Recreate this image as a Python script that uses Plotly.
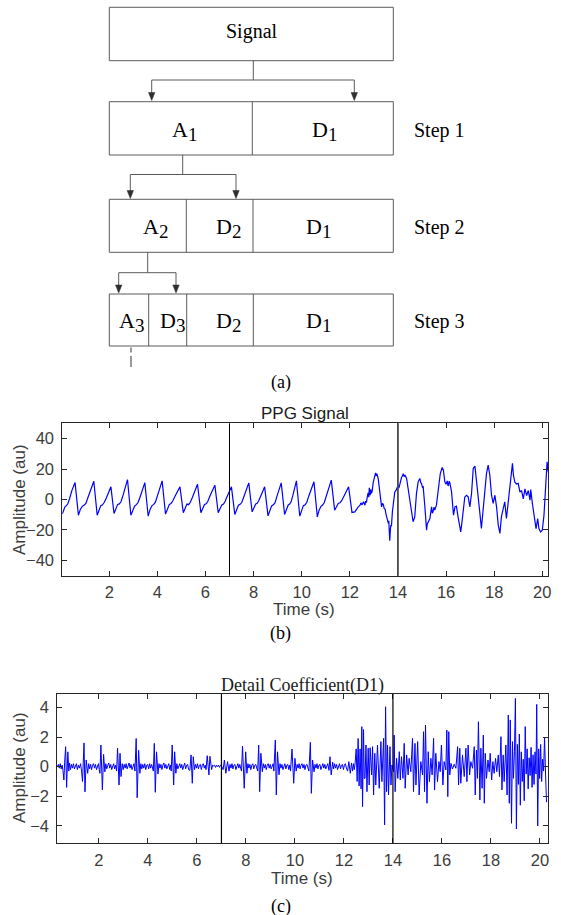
import plotly.graph_objects as go

W, H = 561, 915

# ---------------------------------------------------------------- data
# PPG recording, (time s, amplitude au): regular beats up to ~12 s
ppg_calm = [
    (0.05, -9.5), (0.10, -7.0), (0.16, -4.8), (0.22, -4.0), (0.28, -2.8), (0.35, 0.5), (0.45, 6.0), (0.58, 11.1),
    (0.72, -10.3), (0.80, -6.5), (0.88, -4.5), (0.96, -3.6), (1.03, -2.6), (1.12, 1.5), (1.22, 6.5), (1.36, 12.0),
    (1.50, -10.3), (1.57, -6.8), (1.65, -4.0), (1.72, -3.5), (1.79, -2.0), (1.88, 1.0), (1.96, 4.5), (2.07, 8.3),
    (2.20, -9.2), (2.27, -6.0), (2.35, -3.2), (2.42, -2.9), (2.49, -1.5), (2.58, 3.0), (2.66, 7.5), (2.76, 13.1),
    (2.90, -10.3), (2.98, -6.8), (3.06, -4.2), (3.13, -3.4), (3.20, -2.0), (3.29, 2.0), (3.38, 6.5), (3.48, 11.1),
    (3.62, -10.9), (3.70, -6.5), (3.78, -4.0), (3.85, -3.2), (3.92, -1.8), (4.01, 2.5), (4.10, 7.0), (4.20, 12.2),
    (4.34, -9.6), (4.42, -6.0), (4.50, -3.2), (4.57, -2.6), (4.64, -1.0), (4.73, 2.0), (4.83, 5.5), (4.94, 8.3),
    (5.08, -8.7), (5.15, -5.5), (5.23, -3.0), (5.30, -3.4), (5.37, -1.8), (5.46, 1.5), (5.56, 6.0), (5.67, 10.0),
    (5.81, -8.7), (5.88, -5.5), (5.96, -3.3), (6.03, -2.8), (6.10, -1.2), (6.19, 2.5), (6.29, 6.5), (6.39, 9.4),
    (6.53, -8.7), (6.60, -5.8), (6.68, -3.5), (6.75, -3.0), (6.82, -1.2), (6.90, 2.0), (6.99, 5.0), (7.08, 8.3),
    (7.22, -9.8), (7.29, -6.5), (7.37, -3.8), (7.44, -3.2), (7.51, -2.0), (7.60, 2.0), (7.70, 7.0), (7.80, 10.9),
    (7.94, -8.1), (8.01, -5.2), (8.09, -2.9), (8.15, -2.5), (8.21, -1.0), (8.29, 2.0), (8.37, 5.5), (8.46, 8.3),
    (8.60, -10.7), (8.67, -7.0), (8.75, -4.2), (8.82, -3.5), (8.89, -2.2), (8.97, 2.0), (9.06, 7.0), (9.15, 10.9),
    (9.29, -9.8), (9.36, -6.5), (9.44, -3.6), (9.50, -3.0), (9.56, -1.5), (9.63, 2.5), (9.70, 7.5), (9.78, 12.2),
    (9.92, -10.9), (9.99, -7.0), (10.07, -4.0), (10.14, -3.4), (10.21, -2.0), (10.30, 2.5), (10.40, 7.5), (10.51, 11.6),
    (10.65, -11.4), (10.72, -7.2), (10.80, -4.5), (10.87, -3.6), (10.94, -2.0), (11.03, 3.0), (11.13, 8.0), (11.23, 12.7),
    (11.37, -7.0), (11.44, -4.8), (11.52, -2.6), (11.59, -2.2), (11.66, -0.8), (11.75, 2.0), (11.85, 5.5), (11.95, 8.3),
    (12.09, -8.5), (12.21, -8.1), (12.35, -4.8), (12.42, -3.9),
]

# PPG recording, motion-corrupted stretch from ~12.4 s to the end
ppg_active = [
    (12.46, -2.2), (12.51, -3.5), (12.57, -1.5), (12.60, -3.0), (12.63, -3.7), (12.66, -1.0), (12.69, -2.0),
    (12.73, 2.0), (12.76, 4.4), (12.79, 1.5), (12.81, 7.7), (12.85, 2.8), (12.87, 6.6), (12.90, 4.0), (12.93, 5.5),
    (12.97, 10.9), (13.02, 14.0), (13.07, 17.5), (13.10, 15.5), (13.12, 17.0), (13.18, 13.8), (13.22, 8.0),
    (13.25, 2.8), (13.29, -2.0), (13.32, -4.8), (13.36, -2.5), (13.39, -3.1), (13.43, -5.9), (13.47, -6.5),
    (13.50, -9.2), (13.55, -12.5), (13.60, -15.7), (13.62, -14.0), (13.64, -21.2), (13.66, -27.1), (13.69, -19.0),
    (13.71, -16.8), (13.73, -17.5), (13.77, -8.0), (13.80, -2.6), (13.84, 3.0), (13.87, 5.0), (13.92, 6.0),
    (13.96, 7.7), (14.01, 9.4), (14.04, 7.5), (14.08, 10.5), (14.12, 12.0), (14.15, 14.4), (14.19, 15.5),
    (14.22, 17.0), (14.26, 15.0), (14.29, 16.0), (14.36, 13.8), (14.43, 6.1), (14.50, -2.6), (14.56, -10.3),
    (14.63, -14.6), (14.70, -11.4), (14.77, 3.9), (14.84, 11.6), (14.91, 13.8), (14.95, 11.0), (14.98, 10.5),
    (15.02, 8.0), (15.05, 8.3), (15.12, -4.8), (15.19, -20.1), (15.22, -16.0), (15.26, -14.6), (15.33, -12.5),
    (15.37, -8.0), (15.40, -4.8), (15.43, -9.0), (15.46, -8.1), (15.50, -5.0), (15.53, -7.0), (15.60, -3.7),
    (15.67, 6.1), (15.76, 17.0), (15.84, 21.0), (15.89, 19.2), (15.95, 11.6), (16.00, 10.0), (16.05, 12.2),
    (16.08, 9.0), (16.10, 9.4), (16.13, 12.0), (16.16, 10.9), (16.23, 5.0), (16.31, -10.3), (16.37, -4.8),
    (16.43, -4.4), (16.50, -11.4), (16.57, -17.0), (16.61, -21.2), (16.66, -15.0), (16.71, -9.2), (16.78, 1.7),
    (16.85, 2.8), (16.92, 1.7), (16.99, -4.8), (17.06, 3.9), (17.13, 20.3), (17.20, 21.9), (17.27, 11.6),
    (17.33, -0.4), (17.40, -8.1), (17.47, -19.0), (17.54, -7.0), (17.61, 9.4), (17.68, 17.0), (17.75, 22.5),
    (17.82, 16.0), (17.89, 2.8), (17.96, -2.6), (18.03, 2.8), (18.10, -4.8), (18.17, -16.8), (18.24, -22.3),
    (18.30, -11.4), (18.37, -7.0), (18.44, -1.5), (18.51, -12.5), (18.58, -2.6), (18.65, 5.0), (18.72, 17.0),
    (18.76, 23.7), (18.80, 16.0), (18.86, 11.3), (18.93, 10.2), (19.00, 10.6), (19.07, 4.8), (19.14, 5.9),
    (19.21, 0.4), (19.28, 7.0), (19.35, 2.6), (19.42, 5.9), (19.49, -0.5), (19.52, 6.5), (19.59, -2.8),
    (19.67, -12.6), (19.74, -19.1), (19.81, -12.6), (19.86, -19.1), (19.93, -21.3), (20.00, -20.2),
    (20.07, -10.4), (20.16, 13.5), (20.20, 24.8), (20.25, 17.8),
]

# First-level detail coefficients D1, (time s, amplitude au): quiet part
d1_calm = [
    (0.30, 0.05), (0.34, 0.15), (0.38, -0.10), (0.42, 0.20), (0.46, -0.15), (0.50, 0.10), (0.53, -0.25),
    (0.57, -0.90), (0.60, 0.30), (0.64, 1.35), (0.68, -1.40), (0.73, 1.00), (0.77, -0.30), (0.80, 0.25),
    (0.84, -0.20), (0.88, 0.15), (0.92, -0.10), (0.96, 0.20), (1.00, -0.15), (1.04, 0.10), (1.08, 0.20),
    (1.12, -0.20), (1.16, 0.10), (1.20, -0.10), (1.25, 0.20),
    (1.29, -0.30), (1.33, -1.00), (1.39, 1.60), (1.43, -1.70), (1.48, 0.45), (1.54, -0.45), (1.58, 0.20),
    (1.62, -0.15), (1.66, 0.15), (1.70, -0.20), (1.74, 0.10), (1.78, 0.20), (1.82, -0.10), (1.86, 0.15),
    (1.90, -0.20), (1.94, 0.10), (1.98, 0.20),
    (2.01, -0.20), (2.04, -0.45), (2.08, 1.46), (2.14, -1.57), (2.19, 0.83), (2.24, -0.35), (2.28, 0.20),
    (2.32, -0.15), (2.36, 0.10), (2.40, 0.25), (2.44, -0.10), (2.48, 0.15), (2.52, -0.20), (2.56, 0.10),
    (2.60, 0.20), (2.64, -0.15), (2.68, 0.10),
    (2.72, -0.30), (2.76, 1.24), (2.82, -1.24), (2.86, 0.90), (2.90, -0.67), (2.95, 0.20), (2.99, -0.20),
    (3.03, 0.15), (3.07, -0.10), (3.11, 0.20), (3.15, -0.15), (3.19, 0.10), (3.23, 0.25), (3.27, -0.10),
    (3.31, 0.15), (3.35, -0.20), (3.39, 0.10), (3.43, 0.20),
    (3.47, -0.30), (3.52, 1.90), (3.56, -2.10), (3.62, 1.10), (3.67, -0.45), (3.71, 0.20), (3.75, -0.15),
    (3.79, 0.15), (3.83, -0.10), (3.87, 0.20), (3.91, -0.20), (3.95, 0.10), (3.99, 0.15), (4.03, -0.15),
    (4.07, 0.20), (4.11, -0.10), (4.15, 0.15), (4.19, -0.20),
    (4.22, -0.30), (4.26, 1.57), (4.30, -1.73), (4.35, 1.00), (4.41, -0.50), (4.45, 0.20), (4.49, -0.10),
    (4.53, 0.15), (4.57, -0.20), (4.61, 0.10), (4.65, 0.25), (4.69, -0.10), (4.73, 0.15), (4.77, -0.15),
    (4.81, 0.10), (4.85, 0.20), (4.89, -0.20), (4.92, 0.10),
    (4.95, -0.30), (4.99, 1.46), (5.05, -1.24), (5.09, 1.00), (5.14, -0.45), (5.18, 0.20), (5.22, -0.15),
    (5.26, 0.10), (5.30, 0.20), (5.34, -0.10), (5.38, 0.15), (5.42, -0.20), (5.46, 0.10), (5.50, 0.25),
    (5.54, -0.15), (5.58, 0.10), (5.62, 0.15), (5.66, -0.20),
    (5.71, -0.25), (5.76, 0.79), (5.81, -1.12), (5.85, 0.67), (5.90, -0.20), (5.94, 0.15), (5.98, -0.10),
    (6.02, 0.20), (6.06, -0.15), (6.10, 0.10), (6.14, 0.15), (6.18, -0.20), (6.22, 0.10), (6.26, 0.20),
    (6.30, -0.10), (6.34, 0.10),
    (6.37, -0.20), (6.42, 0.74), (6.49, -0.56), (6.53, 0.70), (6.60, -0.20), (6.64, 0.10), (6.68, 0.05),
    (6.72, 0.10), (6.76, -0.05), (6.80, 0.10), (6.84, 0.00), (6.88, 0.10), (6.92, -0.05), (6.96, 0.10),
    (7.00, 0.05), (7.04, -0.10),
    (7.07, -0.20), (7.12, 0.45), (7.18, -0.45), (7.25, 0.34), (7.31, -0.30), (7.35, 0.15), (7.39, -0.10),
    (7.43, 0.20), (7.47, -0.15), (7.51, 0.10), (7.55, 0.15), (7.59, -0.20), (7.63, 0.10), (7.67, 0.20),
    (7.71, -0.10), (7.75, 0.15), (7.79, -0.15),
    (7.82, -0.30), (7.86, 1.39), (7.93, -1.46), (7.99, 1.00), (8.04, -0.45), (8.08, 0.20), (8.12, -0.10),
    (8.16, 0.15), (8.20, -0.20), (8.24, 0.10), (8.28, 0.20), (8.32, -0.15), (8.36, 0.10), (8.40, 0.15),
    (8.44, -0.20),
    (8.48, -0.30), (8.52, 1.46), (8.56, -1.69), (8.61, 0.90), (8.67, -0.35), (8.71, 0.20), (8.75, -0.10),
    (8.79, 0.15), (8.83, -0.20), (8.87, 0.10), (8.91, 0.20), (8.95, -0.10), (8.99, 0.15), (9.03, -0.15),
    (9.07, 0.10), (9.11, 0.20),
    (9.14, -0.30), (9.20, 1.80), (9.24, -1.91), (9.29, 1.00), (9.35, -0.55), (9.39, 0.20), (9.43, -0.10),
    (9.47, 0.15), (9.51, -0.20), (9.55, 0.10), (9.59, 0.20), (9.63, -0.15), (9.67, 0.10), (9.71, 0.15),
    (9.75, -0.20), (9.79, 0.10),
    (9.82, -0.30), (9.88, 1.19), (9.95, -1.12), (10.00, 0.56), (10.05, -0.30), (10.09, 0.15), (10.13, -0.10),
    (10.17, 0.20), (10.21, -0.15), (10.25, 0.10), (10.29, 0.20), (10.33, -0.10), (10.37, 0.15), (10.41, -0.20),
    (10.45, 0.10), (10.49, 0.15), (10.53, -0.10),
    (10.57, -0.30), (10.63, 1.64), (10.67, -1.80), (10.72, 0.45), (10.78, -0.35), (10.82, 0.15), (10.86, -0.10),
    (10.90, 0.20), (10.94, -0.15), (10.98, 0.10), (11.02, 0.15), (11.06, -0.20), (11.10, 0.10), (11.14, 0.20),
    (11.18, -0.10), (11.22, 0.15), (11.26, -0.15), (11.30, 0.10), (11.34, 0.20),
    (11.39, -0.25), (11.43, 0.67), (11.48, -0.56), (11.54, 0.30), (11.58, -0.15), (11.62, 0.20), (11.66, -0.10),
    (11.70, 0.15), (11.74, -0.20), (11.78, 0.10), (11.82, 0.20), (11.86, -0.15), (11.90, 0.10), (11.94, 0.15),
    (11.98, -0.20), (12.02, 0.10), (12.06, 0.20), (12.10, -0.10),
    (12.15, -0.30), (12.20, 0.34), (12.26, -0.45), (12.31, 0.25), (12.35, -0.30), (12.39, 0.20), (12.42, -0.20),
    (12.45, 0.10),
]

# D1 coefficients over the motion-corrupted stretch
d1_active = [
    (12.50, 1.20), (12.54, -1.00), (12.58, 1.90), (12.62, -1.30), (12.66, 1.20), (12.70, -1.50), (12.73, 2.70),
    (12.76, -2.70), (12.80, 2.50), (12.83, -0.80), (12.86, -0.79), (12.90, 1.46), (12.94, -1.69), (12.99, 1.24),
    (13.03, -1.24), (13.07, 1.28), (13.13, -0.56), (13.17, 1.35), (13.21, -1.91), (13.26, 0.90), (13.30, -1.24),
    (13.37, 1.46), (13.44, -1.46), (13.51, 1.69), (13.55, -1.01), (13.62, 1.91), (13.66, -3.93), (13.70, 4.04),
    (13.74, -1.69), (13.78, 1.46), (13.82, -1.91), (13.88, 1.35), (13.92, -1.24), (13.96, 0.11), (14.03, -0.34),
    (14.05, 2.13), (14.09, -1.69), (14.15, 0.56), (14.20, -0.79), (14.26, 1.01), (14.30, -0.90), (14.35, 0.67),
    (14.41, -0.79), (14.46, 1.57), (14.50, -1.46), (14.56, 0.79), (14.62, -0.56), (14.66, 0.56), (14.73, -0.34),
    (14.80, 1.91), (14.84, -1.69), (14.90, 1.57), (14.94, -1.24), (15.01, 1.69), (15.07, -1.91), (15.14, 0.34),
    (15.21, -0.56), (15.25, 2.36), (15.29, -1.69), (15.33, 2.81), (15.39, -2.47), (15.44, 1.01), (15.49, -1.01),
    (15.55, 0.56), (15.60, -0.56), (15.66, 1.91), (15.70, -1.57), (15.75, 0.90), (15.82, -1.01), (15.88, 0.34),
    (15.93, -0.34), (15.98, 1.46), (16.04, -1.24), (16.09, 0.34), (16.16, -0.22), (16.20, 2.47), (16.24, -2.02),
    (16.28, 2.36), (16.32, -0.56), (16.37, 0.22), (16.43, -0.16), (16.50, 0.16), (16.57, -0.11), (16.64, 1.35),
    (16.68, -1.24), (16.73, 1.24), (16.77, -1.12), (16.84, 0.79), (16.91, -0.67), (16.98, 1.24), (17.02, -1.01),
    (17.07, 1.46), (17.13, -0.56), (17.18, 0.34), (17.25, -0.11), (17.32, 1.35), (17.36, -1.91), (17.41, 1.12),
    (17.45, -0.79), (17.49, 3.03), (17.55, -2.25), (17.59, 1.24), (17.64, -1.46), (17.69, 2.13), (17.73, -2.47),
    (17.77, 0.90), (17.82, -0.79), (17.88, 0.45), (17.93, -0.34), (17.97, 0.90), (18.03, -0.90), (18.08, 0.34),
    (18.13, -0.45), (18.19, 0.56), (18.24, -0.34), (18.30, 0.79), (18.35, -0.67), (18.41, 2.02), (18.45, -1.57),
    (18.50, 0.79), (18.54, -1.01), (18.61, 1.46), (18.66, -1.91), (18.71, 3.48), (18.75, -2.47), (18.79, 3.15),
    (18.84, -3.82), (18.88, 1.69), (18.92, -0.79), (18.96, 1.00), (19.00, 4.60), (19.04, -4.20), (19.08, 1.50),
    (19.12, -1.20), (19.16, 2.20), (19.20, -2.60), (19.24, 1.00), (19.28, -1.00), (19.32, 0.50), (19.36, -2.30),
    (19.40, 2.70), (19.44, -0.50), (19.48, 1.20), (19.52, -1.50), (19.56, 0.60), (19.60, -0.60), (19.64, 1.30),
    (19.68, -1.40), (19.72, 0.80), (19.76, -1.20), (19.80, 1.00), (19.84, -0.50), (19.87, 4.20), (19.91, -4.00),
    (19.95, 1.20), (19.99, -0.80), (20.03, 1.50), (20.07, -1.00), (20.11, 0.50), (20.15, -0.30), (20.19, 2.00),
    (20.23, -0.50), (20.27, -2.40),
]

segment_bounds = [7, 14]              # boundaries between analysis windows (s)
time_ticks = [2, 4, 6, 8, 10, 12, 14, 16, 18, 20]
ppg_ticks = [-40, -20, 0, 20, 40]
d1_ticks = [-4, -2, 0, 2, 4]

# labels of the three-level decomposition tree: (letter, level subscript)
tree_rows = [
    [("Signal", "")],
    [("A", "1"), ("D", "1")],
    [("A", "2"), ("D", "2"), ("D", "1")],
    [("A", "3"), ("D", "3"), ("D", "2"), ("D", "1")],
]
step_names = ["Step 1", "Step 2", "Step 3"]
panel_tags = ["(a)", "(b)", "(c)"]

# ---------------------------------------------------------------- styling
SANS = "Liberation Sans, Arial, sans-serif"
SERIF = "Liberation Serif, Times New Roman, serif"
AXC = "#262626"
TXT = "#3c3c3c"
BLUE = "#0000ff"
BOX = "#5a5a5a"
TICK_SIZE = 16.5


def px_x(p):
    return p / W


def px_y(p):
    return 1 - p / H


fig = go.Figure()

ppg_all = ppg_calm + ppg_active
d1_all = d1_calm + d1_active
fig.add_trace(go.Scatter(x=[p[0] for p in ppg_all], y=[p[1] for p in ppg_all],
                         mode="lines", line=dict(color=BLUE, width=1.2),
                         xaxis="x", yaxis="y", showlegend=False, hoverinfo="skip"))
fig.add_trace(go.Scatter(x=[p[0] for p in d1_all], y=[p[1] for p in d1_all],
                         mode="lines", line=dict(color=BLUE, width=1.0),
                         xaxis="x2", yaxis="y2", showlegend=False, hoverinfo="skip"))


def axis_style(domain, rng, ticks, standoff):
    return dict(domain=domain, range=rng, tickvals=ticks, ticks="inside", ticklen=5,
                tickcolor=AXC, tickwidth=1, showline=True, linecolor=AXC, linewidth=1,
                mirror="ticks", showgrid=False, zeroline=False, automargin=False,
                ticklabelstandoff=standoff,
                tickfont=dict(family=SANS, size=TICK_SIZE, color=TXT), fixedrange=True)


ppg_x = [px_x(62.3), px_x(548.3)]
ppg_y = [px_y(575.7), px_y(423.3)]
d1_x = [px_x(57.3), px_x(548.0)]
d1_y = [px_y(843.0), px_y(694.0)]

fig.update_layout(
    width=W, height=H, margin=dict(l=0, r=0, t=0, b=0),
    paper_bgcolor="white", plot_bgcolor="white", showlegend=False,
    xaxis=axis_style(ppg_x, [0.05, 20.25], time_ticks, 1),
    yaxis=axis_style(ppg_y, [-50, 50], ppg_ticks, 4),
    xaxis2=dict(axis_style(d1_x, [0.30, 20.33], time_ticks, 2), anchor="y2"),
    yaxis2=dict(axis_style(d1_y, [-5.15, 4.9], d1_ticks, 4), anchor="x2"),
    # pixel-space canvas for the decomposition tree
    xaxis3=dict(domain=[0, 1], range=[0, W], visible=False, fixedrange=True, anchor="y3"),
    yaxis3=dict(domain=[px_y(400), 1], range=[400, 0], visible=False, fixedrange=True, anchor="x3"),
)

shapes = []
annotations = []

# window boundaries in both signal panels
for b in segment_bounds:
    first = b == segment_bounds[0]
    shapes.append(dict(type="line", xref="x", yref="y domain", x0=b, x1=b, y0=0, y1=1,
                       line=dict(color="#000000" if first else "#4a4a4a", width=1 if first else 1.8)))
    shapes.append(dict(type="line", xref="x2", yref="y2 domain", x0=b, x1=b, y0=0, y1=1,
                       line=dict(color="#000000", width=1.2)))

# ---------------------------------------------------------------- tree diagram
XL, XR = 109.3, 393.3
row_boxes = [(7.3, 60.7), (101.7, 155.0), (199.3, 252.3), (294.0, 346.0)]
row_dividers = [[], [252.3], [186.3, 253.0], [148.7, 186.7, 253.3]]
row_text_x = [[252.0], [184.0, 324.0], [155.0, 228.0, 318.0], [131.0, 172.0, 228.0, 318.0]]
row_text_y = [31.0, 129.0, 226.0, 320.0]


def seg(x0, y0, x1, y1, color=BOX, width=1):
    shapes.append(dict(type="line", xref="x3", yref="y3", x0=x0, y0=y0, x1=x1, y1=y1,
                       line=dict(color=color, width=width)))


def arrow_down(x, y0, y1):
    # shaft plus a filled triangular head ending at y1
    seg(x, y0, x, y1 - 6)
    shapes.append(dict(type="path", xref="x3", yref="y3",
                       path=f"M {x - 3.2} {y1 - 8} L {x + 3.2} {y1 - 8} L {x} {y1} Z",
                       fillcolor="#2e2e2e", line=dict(color="#2e2e2e", width=0.5)))


def tree_label(x, y, letter, sub):
    if not sub:
        annotations.append(dict(xref="x3", yref="y3", x=x, y=y, text=letter, showarrow=False,
                                xanchor="center", yanchor="middle",
                                font=dict(family=SERIF, size=20, color="#000000")))
        return
    # letter and its level index, the index set lower like a subscript
    annotations.append(dict(xref="x3", yref="y3", x=x + 4, y=y, text=letter, showarrow=False,
                            xanchor="right", yanchor="middle", borderpad=0, borderwidth=0,
                            font=dict(family=SERIF, size=22, color="#000000")))
    annotations.append(dict(xref="x3", yref="y3", x=x + 4, y=y + 5, text=sub, showarrow=False,
                            xanchor="left", yanchor="middle", borderpad=0, borderwidth=0,
                            font=dict(family=SERIF, size=19, color="#000000")))


for r, (top, bot) in enumerate(row_boxes):
    shapes.append(dict(type="rect", xref="x3", yref="y3", x0=XL, x1=XR, y0=top, y1=bot,
                       line=dict(color=BOX, width=1), fillcolor="rgba(0,0,0,0)"))
    for xd in row_dividers[r]:
        seg(xd, top, xd, bot)
    for (letter, sub), tx in zip(tree_rows[r], row_text_x[r]):
        tree_label(tx, row_text_y[r], letter, sub)
    if r > 0:
        annotations.append(dict(xref="x3", yref="y3", x=411.5, y=row_text_y[r] + 1, text=step_names[r - 1],
                                showarrow=False, xanchor="left", yanchor="middle",
                                font=dict(family=SERIF, size=20, color="#000000")))

# branches: stem down from the parent, bar across, arrows into the children
branches = [
    (253.3, 60.7, 80.0, 151.7, 354.3, 100.5),
    (182.7, 155.0, 174.5, 130.3, 236.0, 198.5),
    (147.7, 252.3, 272.7, 118.7, 176.0, 293.0),
]
for sx, sy0, sy1, lx, rx, ay in branches:
    seg(sx, sy0, sx, sy1)
    seg(lx, sy1, rx, sy1)
    arrow_down(lx, sy1, ay)
    arrow_down(rx, sy1, ay)

# continuation mark under A3
seg(131.0, 347.5, 131.0, 352.5, color="#333333")
seg(131.0, 356.0, 131.0, 367.0, color="#333333")

annotations.append(dict(xref="x3", yref="y3", x=280.5, y=382.0, text=panel_tags[0], showarrow=False,
                        xanchor="center", yanchor="middle", font=dict(family=SERIF, size=18, color="#000")))

# ---------------------------------------------------------------- panel texts
ppg_cx = (ppg_x[0] + ppg_x[1]) / 2
d1_cx = (d1_x[0] + d1_x[1]) / 2
annotations += [
    dict(xref="paper", yref="paper", x=ppg_cx, y=px_y(424.5), text="PPG Signal", showarrow=False,
         xanchor="center", yanchor="bottom", font=dict(family=SANS, size=17, color="#1a1a1a")),
    dict(xref="paper", yref="paper", x=px_x(304), y=px_y(609), text="Time (s)", showarrow=False,
         xanchor="center", yanchor="middle", font=dict(family=SANS, size=17, color=TXT)),
    dict(xref="paper", yref="paper", x=px_x(19), y=px_y(500), text="Amplitude (au)", showarrow=False,
         textangle=-90, xanchor="center", yanchor="middle", font=dict(family=SANS, size=17, color=TXT)),
    dict(xref="paper", yref="paper", x=px_x(280.5), y=px_y(633), text=panel_tags[1], showarrow=False,
         xanchor="center", yanchor="middle", font=dict(family=SERIF, size=18, color="#000")),
    dict(xref="paper", yref="paper", x=d1_cx, y=px_y(685), text="Detail Coefficient(D1)", showarrow=False,
         xanchor="center", yanchor="middle", font=dict(family=SERIF, size=18, color="#1a1a1a")),
    dict(xref="paper", yref="paper", x=px_x(302), y=px_y(878), text="Time (s)", showarrow=False,
         xanchor="center", yanchor="middle", font=dict(family=SANS, size=17, color=TXT)),
    dict(xref="paper", yref="paper", x=px_x(19), y=px_y(768), text="Amplitude (au)", showarrow=False,
         textangle=-90, xanchor="center", yanchor="middle", font=dict(family=SANS, size=17, color=TXT)),
    dict(xref="paper", yref="paper", x=px_x(280.5), y=px_y(906), text=panel_tags[2], showarrow=False,
         xanchor="center", yanchor="middle", font=dict(family=SERIF, size=18, color="#000")),
]

fig.update_layout(shapes=shapes, annotations=annotations)
fig.write_html("out.html", config={"displayModeBar": False})
